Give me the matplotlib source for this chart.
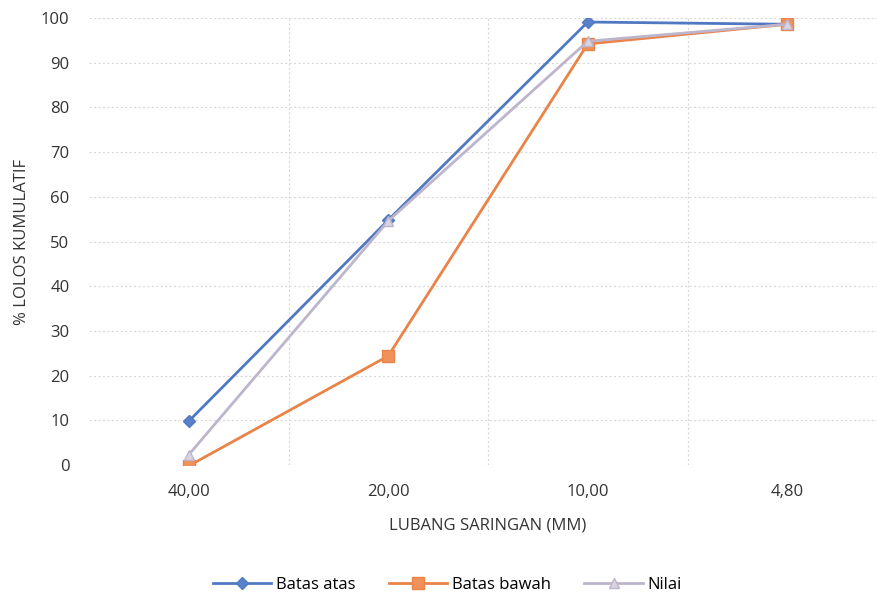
import matplotlib
matplotlib.use("Agg")
import matplotlib.pyplot as plt

plt.rcParams['font.family'] = ['Open Sans', 'DejaVu Sans']

# data
saringan = ["40,00", "20,00", "10,00", "4,80"]
batas_atas = [9.8, 54.8, 99.1, 98.6]
batas_bawah = [-0.2, 24.4, 94.2, 98.6]
nilai = [2.3, 54.6, 94.8, 98.6]

fig = plt.figure(figsize=(8.77, 5.97), dpi=100)
ax = fig.add_axes([89/877, 132/597, 798/877, 447/597])

x = range(len(saringan))
ax.plot(x, batas_atas, color="#5079C2", lw=2.0, marker="D", ms=6.5,
        mec="#5079C2", mfc="#5A82CA", label="Batas atas", zorder=3)
ax.plot(x, batas_bawah, color="#EA8348", lw=2.0, marker="s", ms=9,
        mec="#EA8348", mfc="#F0915A", label="Batas bawah", zorder=4)
ax.plot(x, nilai, color="#BDB5CB", lw=2.0, marker="^", ms=7.5,
        mec="#BDB5CB", mfc="#DAD4E2", label="Nilai", zorder=5)

ax.set_xlim(-0.5, 3.5)
ax.set_ylim(0, 100)
ax.set_yticks(range(0, 101, 10))
ax.set_xticks(list(x))
ax.set_xticklabels(saringan)
ax.set_xticks([0.5, 1.5, 2.5], minor=True)

ax.grid(axis="y", which="major", color="#D9D9D9", ls=(0, (2, 2)), lw=0.8)
ax.grid(axis="x", which="minor", color="#D9D9D9", ls=(0, (2, 2)), lw=0.8)
ax.set_axisbelow(True)
for s in ax.spines.values():
    s.set_visible(False)
ax.tick_params(which="both", length=0, labelsize=12, colors="#333333")
ax.tick_params(axis="x", pad=14)
ax.tick_params(axis="y", pad=14)

ax.set_xlabel("LUBANG SARINGAN (MM)", fontsize=12, color="#333333", labelpad=12)
ax.set_ylabel("% LOLOS KUMULATIF", fontsize=12, color="#333333", labelpad=8)

fig.legend(loc="lower center", bbox_to_anchor=(0.51, -0.018), ncol=3, frameon=False,
           fontsize=12, handlelength=3.5, columnspacing=2.0, handletextpad=0.3)

fig.savefig("out.png", dpi=100, facecolor="white")
